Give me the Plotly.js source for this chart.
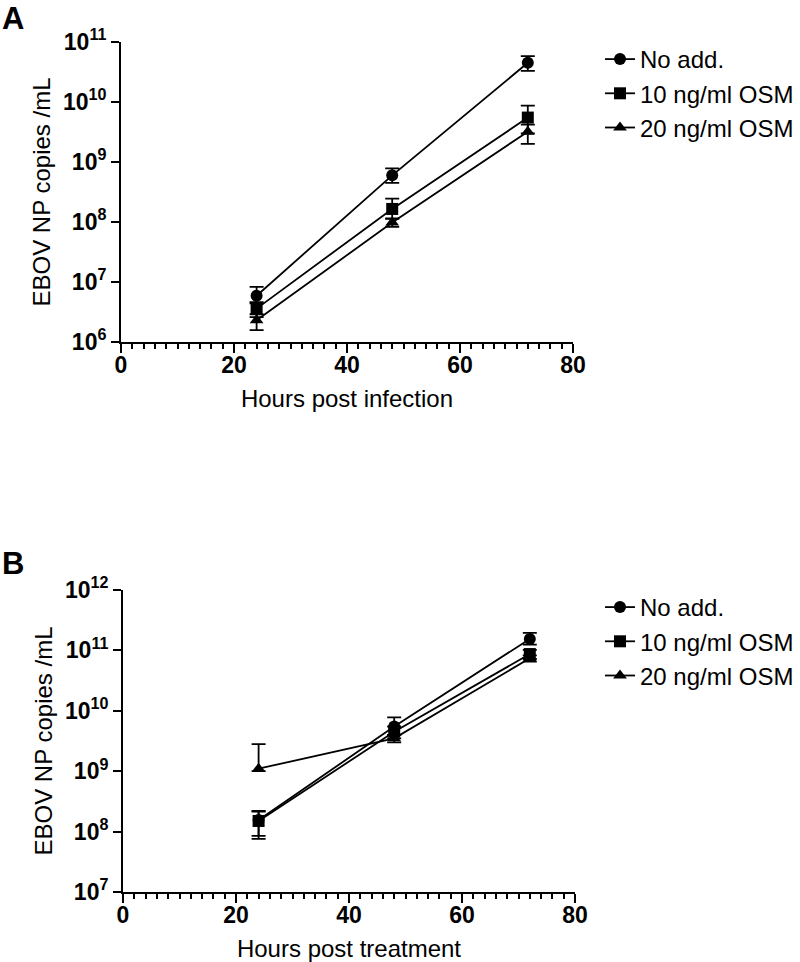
<!DOCTYPE html>
<html>
<head>
<meta charset="utf-8">
<script src="https://cdn.plot.ly/plotly-3.0.1.min.js"></script>
<style>html,body{margin:0;padding:0;background:#fff;}#chart{width:800px;height:962px;}</style>
</head>
<body>
<div id="chart"></div>
<script>
// ---------- data ----------
const hours = [24, 48, 72];
const seriesNames = ["No add.", "10 ng/ml OSM", "20 ng/ml OSM"];
const symbols = ["circle", "square", "triangle-up"];

// Panel A: hours post infection
const aNoAdd = [5.9e6, 6.0e8, 4.5e10];
const aNoAddPlus = [2.4e6, 1.8e8, 1.3e10];
const aNoAddMinus = [1.5e6, 1.5e8, 1.2e10];
const aOsm10 = [3.6e6, 1.65e8, 5.5e9];
const aOsm10Plus = [1.0e6, 0.8e8, 3.2e9];
const aOsm10Minus = [1.0e6, 0.5e8, 2.5e9];
const aOsm20 = [2.3e6, 9.8e7, 3.2e9];
const aOsm20Plus = [0.6e6, 1.5e7, 1.0e9];
const aOsm20Minus = [0.72e6, 1.5e7, 1.2e9];

// Panel B: hours post treatment
const bNoAdd = [1.55e8, 5.5e9, 1.55e11];
const bNoAddPlus = [0.6e8, 2.3e9, 4.0e10];
const bNoAddMinus = [0.7e8, 1.5e9, 3.0e10];
const bOsm10 = [1.5e8, 4.5e9, 8.7e10];
const bOsm10Plus = [0.7e8, 1.0e9, 1.5e10];
const bOsm10Minus = [0.74e8, 1.0e9, 1.5e10];
const bOsm20 = [1.1e9, 3.5e9, 7.4e10];
const bOsm20Plus = [1.7e9, 0.5e9, 0.9e10];
const bOsm20Minus = [0.1e9, 0.5e9, 0.9e10];

const xTickVals = [0, 20, 40, 60, 80];
const aYTickVals = [1e6, 1e7, 1e8, 1e9, 1e10, 1e11];
const aYTickText = ["10<sup>6</sup>", "10<sup>7</sup>", "10<sup>8</sup>", "10<sup>9</sup>", "10<sup>10</sup>", "10<sup>11</sup>"];
const bYTickVals = [1e7, 1e8, 1e9, 1e10, 1e11, 1e12];
const bYTickText = ["10<sup>7</sup>", "10<sup>8</sup>", "10<sup>9</sup>", "10<sup>10</sup>", "10<sup>11</sup>", "10<sup>12</sup>"];

// ---------- build ----------
const FONT = "Liberation Sans, Arial, Helvetica, sans-serif";
function mk(name, sym, y, plus, minus, xa, ya, leg) {
  return {
    type: "scatter", mode: "lines+markers", name: name,
    x: hours, y: y, xaxis: xa, yaxis: ya, legend: leg,
    line: {color: "#000", width: 1.8},
    marker: {symbol: sym, size: 12, color: "#000"},
    error_y: {type: "data", symmetric: false, array: plus, arrayminus: minus,
              color: "#000", thickness: 1.8, width: 7}
  };
}
const traces = [
  mk(seriesNames[0], symbols[0], aNoAdd, aNoAddPlus, aNoAddMinus, "x", "y", "legend"),
  mk(seriesNames[1], symbols[1], aOsm10, aOsm10Plus, aOsm10Minus, "x", "y", "legend"),
  mk(seriesNames[2], symbols[2], aOsm20, aOsm20Plus, aOsm20Minus, "x", "y", "legend"),
  mk(seriesNames[0], symbols[0], bNoAdd, bNoAddPlus, bNoAddMinus, "x2", "y2", "legend2"),
  mk(seriesNames[1], symbols[1], bOsm10, bOsm10Plus, bOsm10Minus, "x2", "y2", "legend2"),
  mk(seriesNames[2], symbols[2], bOsm20, bOsm20Plus, bOsm20Minus, "x2", "y2", "legend2")
];

function xax(domain, anchor, title) {
  return {
    domain: domain, anchor: anchor, range: [0, 80], tickvals: xTickVals,
    showgrid: false, zeroline: false, showline: true, linecolor: "#000", linewidth: 2,
    ticks: "outside", ticklen: 9, tickwidth: 2, tickcolor: "#000",
    ticklabelstandoff: -8,
    minor: {dtick: 2, ticks: "outside", ticklen: 5, tickwidth: 2, tickcolor: "#000", showgrid: false},
    tickfont: {family: FONT, size: 23, color: "#000", weight: "bold"},
    title: {text: title, font: {family: FONT, size: 24, color: "#000"}, standoff: 14},
    fixedrange: true
  };
}
function yax(domain, anchor, range, tv, tt) {
  return {
    domain: domain, anchor: anchor, type: "log", range: range,
    tickvals: tv, ticktext: tt,
    showgrid: false, zeroline: false, showline: true, linecolor: "#000", linewidth: 2,
    ticks: "outside", ticklen: 8, tickwidth: 2, tickcolor: "#000",
    tickfont: {family: FONT, size: 23, color: "#000", weight: "bold"},
    title: {text: "EBOV NP copies /mL", font: {family: FONT, size: 24, color: "#000"}, standoff: 6},
    fixedrange: true
  };
}

const layout = {
  width: 800, height: 962,
  margin: {l: 0, r: 0, t: 0, b: 0},
  paper_bgcolor: "#fff", plot_bgcolor: "#fff",
  font: {family: FONT, color: "#000"},
  showlegend: true,
  xaxis: xax([121/800, 573/800], "y", "Hours post infection"),
  yaxis: yax([1 - 342/962, 1 - 42/962], "x", [6, 11], aYTickVals, aYTickText),
  xaxis2: xax([123/800, 575/800], "y2", "Hours post treatment"),
  yaxis2: yax([1 - 892/962, 1 - 590/962], "x2", [7, 12], bYTickVals, bYTickText),
  legend: {x: 600/800, y: 1 - 37/962, xanchor: "left", yanchor: "top",
           font: {family: FONT, size: 24, color: "#000"}, bgcolor: "rgba(0,0,0,0)",
           itemwidth: 30, tracegroupgap: 0},
  legend2: {x: 600/800, y: 1 - 585/962, xanchor: "left", yanchor: "top",
            font: {family: FONT, size: 24, color: "#000"}, bgcolor: "rgba(0,0,0,0)",
            itemwidth: 30, tracegroupgap: 0},
  annotations: [
    {text: "A", x: 0, y: 1, xref: "paper", yref: "paper", xanchor: "left", yanchor: "top", yshift: 1,
     showarrow: false, font: {family: FONT, size: 31, color: "#000", weight: "bold"}},
    {text: "B", x: 0, y: 1 - 549/962, xref: "paper", yref: "paper", xanchor: "left", yanchor: "top", yshift: 5,
     showarrow: false, font: {family: FONT, size: 31, color: "#000", weight: "bold"}}
  ]
};

Plotly.newPlot("chart", traces, layout, {staticPlot: true, displayModeBar: false});
</script>
</body>
</html>
